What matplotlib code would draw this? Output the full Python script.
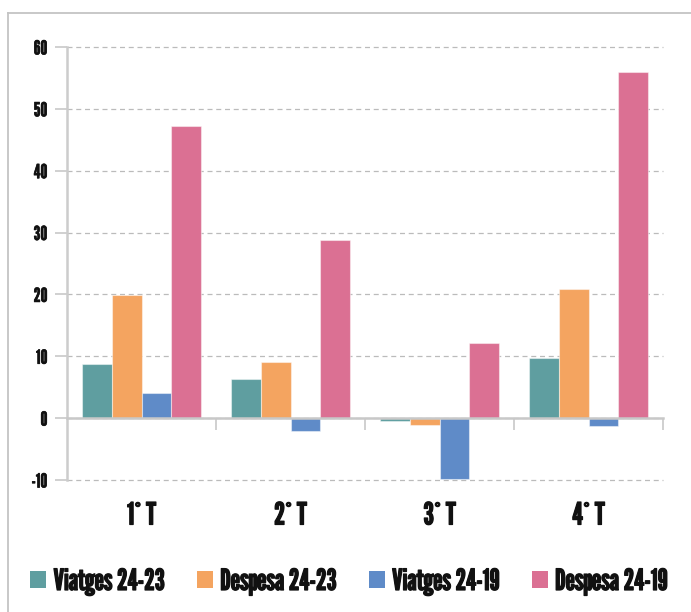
import matplotlib
matplotlib.use("Agg")
import matplotlib.pyplot as plt
import matplotlib.patheffects as pe
from matplotlib.lines import Line2D
import numpy as np

categories = ["1° T", "2° T", "3° T", "4° T"]
series_names = ["Viatges 24-23", "Despesa 24-23", "Viatges 24-19", "Despesa 24-19"]
viatges_24_23 = [8.7, 6.4, -0.4, 9.7]
despesa_24_23 = [19.9, 9.1, -1.1, 20.8]
viatges_24_19 = [4.0, -2.0, -9.8, -1.3]
despesa_24_19 = [47.2, 28.8, 12.2, 56.0]
y_ticks = [-10, 0, 10, 20, 30, 40, 50, 60]

series = [viatges_24_23, despesa_24_23, viatges_24_19, despesa_24_19]
colors = ["#5F9EA0", "#F4A460", "#5F8BC8", "#DB7093"]

plt.rcParams["font.family"] = ["League Gothic", "DejaVu Sans"]
plt.rcParams["axes.unicode_minus"] = False

TXT = "#111111"
bold = [pe.withStroke(linewidth=0.9, foreground=TXT)]
bold_small = [pe.withStroke(linewidth=0.45, foreground=TXT)]

fig = plt.figure(figsize=(6.91, 6.12), dpi=100)
ax = fig.add_axes([67 / 691, 132 / 612, 596 / 691, 433 / 612])

x = np.arange(len(categories))
w = 0.2
for i, (vals, c) in enumerate(zip(series, colors)):
    ax.bar(x + (i - 1.5) * w, vals, width=w, color=c, label=series_names[i],
           edgecolor=(1, 1, 1, 0.45), linewidth=0.8, zorder=3)

ax.set_xlim(-0.5, len(categories) - 0.5)
ax.set_ylim(-10, 60)

ax.set_yticks(y_ticks)
ax.yaxis.grid(True, color="#bbbbbb", linestyle=(0, (4, 3)), linewidth=0.9, zorder=0)
for gl in ax.get_ygridlines():
    gl.set_clip_on(False)
ax.set_axisbelow(True)

for s in ["top", "right"]:
    ax.spines[s].set_visible(False)
ax.spines["left"].set_color("#cccccc")
ax.spines["left"].set_linewidth(1.8)
ax.spines["bottom"].set_position(("data", 0))
ax.spines["bottom"].set_color("#c8c8c8")
ax.spines["bottom"].set_linewidth(1.8)
ax.spines["bottom"].set_zorder(4)

ax.tick_params(axis="y", length=8.6, width=1.2, color="#c8c8c8", pad=5.5,
               labelsize=14, labelcolor=TXT)

ax.set_xticks(np.arange(0.5, len(categories), 1.0))
ax.set_xticklabels([])
ax.tick_params(axis="x", which="major", length=8.6, width=1.2, color="#c8c8c8", direction="out")
ax.set_xticks(x, minor=True)
ax.set_xticklabels(categories, minor=True)
ax.tick_params(axis="x", which="minor", length=0, pad=60, labelsize=22, labelcolor=TXT)

for t in ax.get_yticklabels():
    t.set_path_effects(bold_small)
for t in ax.get_xticklabels(minor=True):
    t.set_path_effects(bold)

fig.add_artist(Line2D([8 / 691, 8 / 691], [0, 1 - 13 / 612], transform=fig.transFigure,
                      color="#c4c4c4", linewidth=1.3))
fig.add_artist(Line2D([8 / 691, 1], [1 - 13 / 612, 1 - 13 / 612], transform=fig.transFigure,
                      color="#c4c4c4", linewidth=1.3))

leg = fig.legend(loc="center", bbox_to_anchor=(0.505, 30 / 612), ncol=4, frameon=False,
                 fontsize=21, handlelength=0.55, handleheight=0.55, handletextpad=0.25,
                 columnspacing=1.1)
for t in leg.get_texts():
    t.set_color(TXT)
    t.set_path_effects(bold)
for h in leg.legend_handles:
    h.set_edgecolor("none")

fig.savefig("out.png", dpi=100)
